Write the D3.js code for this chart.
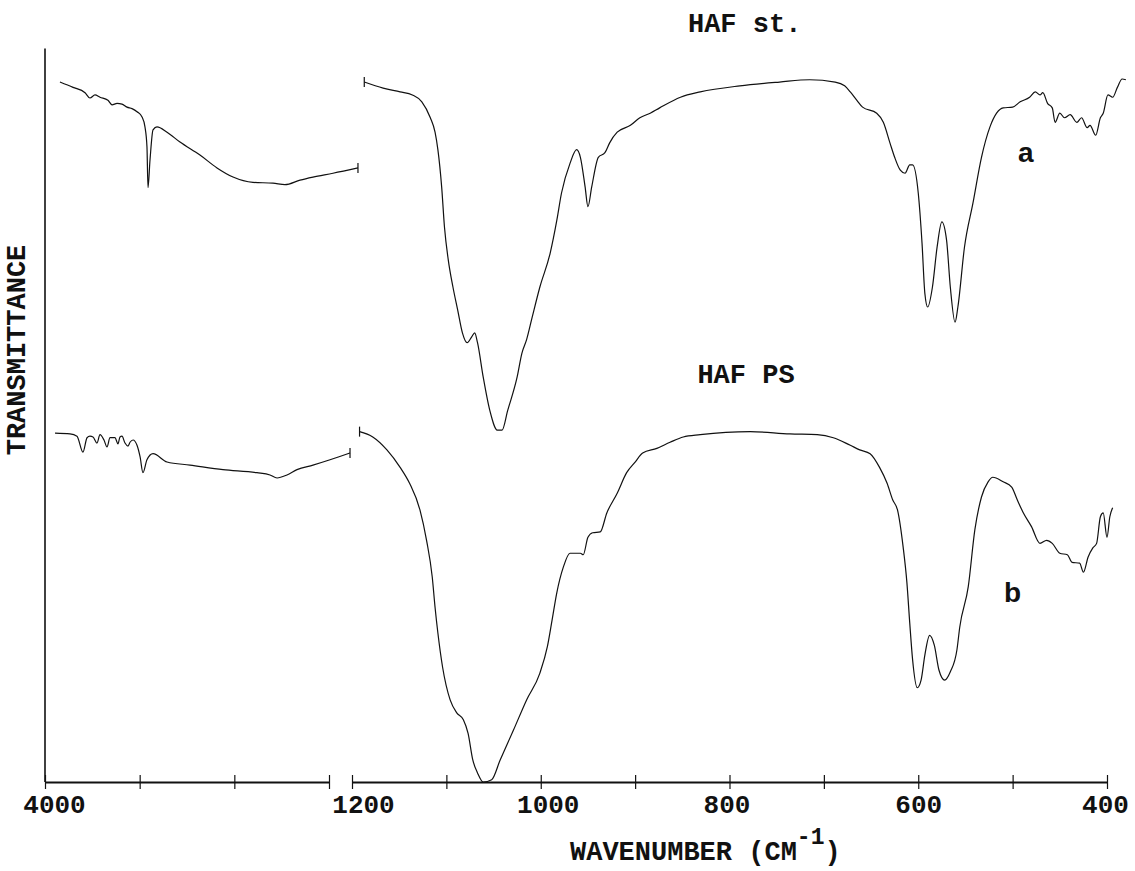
<!DOCTYPE html>
<html>
<head>
<meta charset="utf-8">
<script src="https://cdn.jsdelivr.net/npm/d3@7"></script>
<style>
  html, body { margin: 0; padding: 0; background: #fff; }
  svg { display: block; }
  .mono { font-family: "Liberation Mono", "Courier New", monospace; font-weight: bold; fill: #111; }
</style>
</head>
<body>
<svg id="chart" width="1135" height="871"></svg>
<script>
// ---------- DATA (wavenumber in cm-1, transmittance in arbitrary %) ----------
// Curve a (HAF st.) – high-wavenumber panel
const aLeftWn = [3842,3704,3577,3525,3472,3419,3335,3292,3239,3187,3134,3081,3028,2975,2944,2923,2912,2891,2859,2817,2711,2574,2363,2183,2014,1803,1592,1465,1306,1169,958,694];
const aLeftT  = [92.1,91.4,90.7,90.0,90.4,90.1,89.7,89.1,89.3,89.2,88.8,88.6,88.2,87.5,86.2,83.6,78.2,81.8,85.8,86.2,85.5,84.2,82.5,80.8,79.6,78.9,78.8,78.6,79.2,79.6,80.1,80.8];
// Curve a – fingerprint panel
const aRightWn = [1187,1167,1149,1136,1126,1117,1112,1109,1105,1102,1098,1093,1088,1083,1078,1073,1070,1067,1061,1054,1046,1041,1035,1025,1020,1015,1009,1001,990,983,978,969,962,958,953,950,946,939,932,927,919,905,895,884,874,852,831,789,747,715,688,678,672,665,659,644,637,630,625,619,614,609,606,600,596,593,590,585,580,575,570,566,561,558,551,542,533,524,517,510,500,492,482,476,471,468,463,458,455,450,445,439,432,427,421,418,412,407,404,399,394,389,384,380];
const aRightT  = [92.1,91.3,90.8,90.4,89.5,87.4,85.5,83.2,78.3,73.0,68.7,65.1,62.1,59.1,57.8,58.6,59.1,57.8,53.3,48.9,46.3,46.3,48.9,53.3,56.4,58.2,61.2,65.1,69.6,73.9,77.5,81.4,83.2,82.2,78.3,75.7,78.3,82.2,82.8,84.1,85.5,86.4,87.4,88.0,88.7,90.1,90.8,91.6,92.1,92.4,92.1,91.6,90.8,89.7,88.8,88.0,86.8,84.1,82.2,80.5,80.1,81.2,81.2,77.5,70.9,64.3,62.5,65.1,70.4,73.7,71.3,65.1,60.5,62.5,70.4,76.2,82.2,86.2,88.0,88.7,88.8,89.5,90.1,90.8,90.4,90.7,89.3,88.7,86.8,88.0,87.4,87.8,86.8,87.4,86.1,86.4,85.1,87.4,88.0,90.4,90.1,91.4,92.5,92.4];
// Curve b (HAF PS) – high-wavenumber panel
const bLeftWn = [3894,3736,3662,3599,3556,3525,3493,3451,3419,3377,3345,3313,3261,3229,3208,3187,3155,3123,3102,3070,3028,2996,2965,2923,2859,2711,2468,2120,1761,1623,1549,1444,1338,1169,989,778];
const bLeftT  = [45.9,45.8,45.5,43.4,45.3,45.5,45.4,44.6,45.7,45.0,44.1,45.3,45.3,44.5,45.4,45.5,44.6,44.2,44.7,45.0,44.3,42.8,40.7,42.4,43.2,42.1,41.7,41.1,40.7,40.4,40.0,40.4,41.1,41.7,42.4,43.3];
// Curve b – fingerprint panel
const bRightWn = [1192,1178,1163,1149,1139,1128,1121,1115,1112,1109,1104,1096,1089,1082,1077,1072,1067,1061,1052,1043,1029,1015,1001,993,988,983,976,969,958,955,950,945,937,930,919,909,900,892,877,863,849,831,778,736,707,690,672,662,651,641,633,627,622,616,612,609,606,601,597,593,588,583,578,572,566,559,556,547,540,533,526,521,510,501,495,489,480,471,464,458,450,442,437,429,425,420,415,411,407,404,400,397,394];
const bRightT  = [46.1,45.4,43.7,41.4,39.3,35.8,31.8,27.0,23.0,19.6,15.1,10.8,9.1,8.2,6.4,2.9,1.2,0.0,0.3,2.9,6.8,10.8,14.3,17.8,21.3,24.9,28.3,30.1,30.1,29.9,32.2,32.8,32.9,35.4,38.0,40.7,42.1,43.3,43.9,44.7,45.4,45.7,46.1,45.8,45.7,45.3,44.3,43.7,43.2,41.4,39.3,37.1,35.8,30.9,26.2,20.9,16.1,12.4,13.4,16.7,19.3,18.0,14.7,13.4,14.5,17.4,20.4,25.7,33.2,37.5,39.5,40.1,39.5,38.8,37.1,35.5,33.6,31.4,31.8,31.4,30.1,29.9,28.9,28.8,27.6,29.6,30.8,31.4,34.9,35.4,32.2,34.9,36.1];

// Axis ticks and labels
const leftTicks = [4000, 3000, 2000, 1000];
const leftTickLabels = {4000: "4000"};
const rightTicks = [1200, 1100, 1000, 900, 800, 700, 600, 500, 400];
const rightTickLabels = {1200: "1200", 1000: "1000", 800: "800", 600: "600", 400: "400"};

const curveLabels = [
  {text: "HAF st.", wn: 844, t: 98.7},
  {text: "HAF PS", wn: 834, t: 52.5}
];
const seriesTags = [
  {text: "a", wn: 486, t: 81.6},
  {text: "b", wn: 500, t: 23.7}
];

// ---------- SCALES ----------
const svg = d3.select("#chart");
const xL = d3.scaleLinear().domain([4000, 1000]).range([45, 329]);
const xR = d3.scaleLinear().domain([1200, 400]).range([352, 1107]);
const y  = d3.scaleLinear().domain([0, 100]).range([782, 22]);
const axisY = y(0);

const line = (xs) => d3.line().x(d => xs(d[0])).y(d => y(d[1])).curve(d3.curveMonotoneX);
const zip = (a, b) => a.map((v, i) => [v, b[i]]);

// ---------- AXES ----------
svg.append("line").attr("x1", xL(4000)).attr("x2", xL(4000))
  .attr("y1", y(96.5)).attr("y2", y(0)).attr("stroke", "#111").attr("stroke-width", 1.6);

function drawAxis(scale, ticks, labels, dxMap) {
  const g = svg.append("g").attr("transform", `translate(0,${axisY})`);
  const ax = d3.axisBottom(scale).tickValues(ticks).tickSizeOuter(0).tickSizeInner(7)
    .tickFormat(d => labels[d] || "");
  g.call(ax);
  g.select(".domain").attr("stroke", "#111").attr("stroke-width", 1.8);
  g.selectAll(".tick line").attr("y1", -7).attr("y2", 7).attr("stroke", "#111").attr("stroke-width", 1.2);
  g.selectAll(".tick text").attr("class", "mono").attr("y", 31).attr("dy", 0)
    .attr("dx", d => dxMap[d] || 0)
    .style("font-size", "26px").style("font-family", "Liberation Mono, Courier New, monospace")
    .style("font-weight", "bold").attr("fill", "#111");
}
drawAxis(xL, leftTicks, leftTickLabels, {4000: 9});
drawAxis(xR, rightTicks, rightTickLabels, {1200: 11, 1000: 7, 800: -3, 400: -2});

// axis titles
const xt = svg.append("text").attr("class", "mono").attr("x", 570).attr("y", 860)
  .style("font-size", "27px");
xt.append("tspan").text("WAVENUMBER (CM");
xt.append("tspan").text("-1").style("font-size", "23px").attr("dy", -16);
xt.append("tspan").text(")").attr("dy", 16);

svg.append("text").attr("class", "mono")
  .attr("transform", "translate(25,350) rotate(-90)")
  .attr("text-anchor", "middle").style("font-size", "27px").text("TRANSMITTANCE");

// ---------- SPECTRA ----------
const segs = [
  {wn: aLeftWn, t: aLeftT, xs: xL, markEnd: true, markStart: false},
  {wn: aRightWn, t: aRightT, xs: xR, markEnd: false, markStart: true},
  {wn: bLeftWn, t: bLeftT, xs: xL, markEnd: true, markStart: false},
  {wn: bRightWn, t: bRightT, xs: xR, markEnd: false, markStart: true}
];
segs.forEach(s => {
  const pts = zip(s.wn, s.t);
  svg.append("path").datum(pts).attr("d", line(s.xs))
    .attr("fill", "none").attr("stroke", "#111").attr("stroke-width", 1.2)
    .attr("stroke-linejoin", "round");
  const marks = [];
  if (s.markStart) marks.push(pts[0]);
  if (s.markEnd) marks.push(pts[pts.length - 1]);
  marks.forEach(p => {
    svg.append("line").attr("x1", s.xs(p[0])).attr("x2", s.xs(p[0]))
      .attr("y1", y(p[1]) - 5).attr("y2", y(p[1]) + 5)
      .attr("stroke", "#111").attr("stroke-width", 1.2);
  });
});

// ---------- LABELS ----------
curveLabels.forEach(l => {
  svg.append("text").attr("class", "mono").attr("x", xR(l.wn)).attr("y", y(l.t))
    .style("font-size", "27px").text(l.text);
});
seriesTags.forEach(l => {
  svg.append("text").attr("x", xR(l.wn)).attr("y", y(l.t)).attr("text-anchor", "middle")
    .style("font-family", "Liberation Sans, Arial, sans-serif").style("font-weight", "bold")
    .style("font-size", "28px").attr("fill", "#111").text(l.text);
});
</script>
</body>
</html>
